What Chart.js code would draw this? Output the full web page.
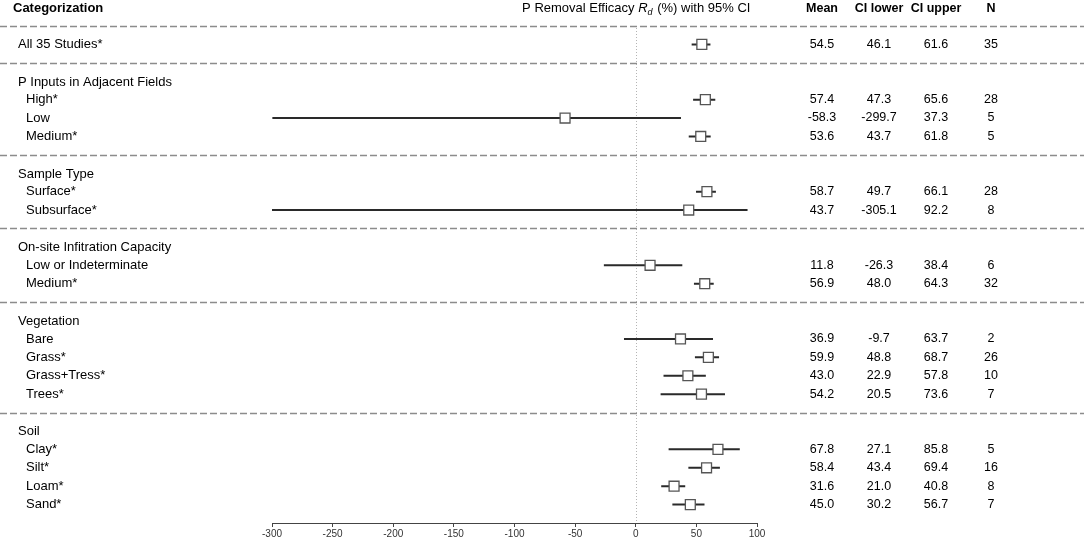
<!DOCTYPE html>
<html>
<head>
<meta charset="utf-8">
<script src="https://cdn.jsdelivr.net/npm/chart.js@4"></script>
<style>
  body { margin: 0; background: #fff; }
  canvas { display: block; }
</style>
</head>
<body>
<canvas id="forest-chart" width="1084" height="538"></canvas>
<script>
// Forest plot data
var groupTitles = [
  "",
  "P Inputs in Adjacent Fields",
  "Sample Type",
  "On-site Infitration Capacity",
  "Vegetation",
  "Soil",
];
var rowLabels = [
  "All 35 Studies*",
  "High*", "Low", "Medium*",
  "Surface*", "Subsurface*",
  "Low or Indeterminate", "Medium*",
  "Bare", "Grass*", "Grass+Tress*", "Trees*",
  "Clay*", "Silt*", "Loam*", "Sand*",
];
var rowGroup = [0, 1, 1, 1, 2, 2, 3, 3, 4, 4, 4, 4, 5, 5, 5, 5];
var means = [54.5, 57.4, -58.3, 53.6, 58.7, 43.7, 11.8, 56.9, 36.9, 59.9, 43.0, 54.2, 67.8, 58.4, 31.6, 45.0];
var ciLower = [46.1, 47.3, -299.7, 43.7, 49.7, -305.1, -26.3, 48.0, -9.7, 48.8, 22.9, 20.5, 27.1, 43.4, 21.0, 30.2];
var ciUpper = [61.6, 65.6, 37.3, 61.8, 66.1, 92.2, 38.4, 64.3, 63.7, 68.7, 57.8, 73.6, 85.8, 69.4, 40.8, 56.7];
var nStudies = [35, 28, 5, 5, 28, 8, 6, 32, 2, 26, 10, 7, 5, 16, 8, 7];
var xTicks = [-300, -250, -200, -150, -100, -50, 0, 50, 100];

// work out the row slots: header, separators, group titles, rows
var rowPos = [];
var titlePos = [];
var sepPos = [1];
var pos = 2;
for (var g = 0; g < groupTitles.length; g++) {
  if (groupTitles[g] !== "") {
    titlePos.push({ text: groupTitles[g], y: pos + 0.05 });
    pos++;
  }
  for (var i = 0; i < rowLabels.length; i++) {
    if (rowGroup[i] == g) {
      rowPos[i] = pos;
      pos++;
    }
  }
  if (g < groupTitles.length - 1) {
    sepPos.push(pos);
    pos++;
  }
}
var lastPos = pos;

// CI segments, broken with gaps
var ciData = [];
for (var i = 0; i < rowLabels.length; i++) {
  ciData.push({ x: ciLower[i], y: rowPos[i] });
  ciData.push({ x: ciUpper[i], y: rowPos[i] });
  ciData.push({ x: null, y: null });
}
var meanData = [];
for (var i = 0; i < rowLabels.length; i++) {
  meanData.push({ x: means[i], y: rowPos[i] });
}

var FONT = "Arial, 'Liberation Sans', sans-serif";
var colMean = 822, colLow = 879, colUp = 936, colN = 991;

var backgroundPlugin = {
  id: "forestBack",
  beforeDatasetsDraw: function (chart) {
    var ctx = chart.ctx;
    var xs = chart.scales.x;
    var ys = chart.scales.y;
    ctx.save();
    // zero reference line
    var x0 = Math.round(xs.getPixelForValue(0)) + 0.5;
    ctx.strokeStyle = "#b4b4b4";
    ctx.lineWidth = 1;
    ctx.setLineDash([1, 2]);
    ctx.beginPath();
    ctx.moveTo(x0, ys.getPixelForValue(1) + 2);
    ctx.lineTo(x0, ys.getPixelForValue(lastPos));
    ctx.stroke();
    ctx.restore();
  },
};

var textPlugin = {
  id: "forestText",
  afterDraw: function (chart) {
    var ctx = chart.ctx;
    var ys = chart.scales.y;
    var xs = chart.scales.x;
    ctx.save();
    ctx.textBaseline = "middle";
    ctx.fillStyle = "#000";

    // separators
    ctx.strokeStyle = "#8c8c8c";
    ctx.lineWidth = 1.5;
    ctx.setLineDash([7, 3]);
    sepPos.forEach(function (p) {
      var y = Math.round(ys.getPixelForValue(p)) + 0.5;
      ctx.beginPath();
      ctx.moveTo(0, y);
      ctx.lineTo(1084, y);
      ctx.stroke();
    });
    ctx.setLineDash([]);

    // headers
    var hy = ys.getPixelForValue(0) + 1;
    ctx.font = "bold 13px " + FONT;
    ctx.textAlign = "left";
    ctx.fillText("Categorization", 13, hy);
    ctx.font = "bold 12.5px " + FONT;
    ctx.textAlign = "center";
    ctx.fillText("Mean", colMean, hy);
    ctx.fillText("CI lower", colLow, hy);
    ctx.fillText("CI upper", colUp, hy);
    ctx.fillText("N", colN, hy);

    // axis title with italic R and subscript d
    var cx = xs.getPixelForValue(0);
    var p1 = "P Removal Efficacy ";
    var p2 = "R";
    var p3 = "d";
    var p4 = " (%) with 95% CI";
    ctx.font = "13px " + FONT;
    var w1 = ctx.measureText(p1).width;
    var w4 = ctx.measureText(p4).width;
    ctx.font = "italic 13px " + FONT;
    var w2 = ctx.measureText(p2).width;
    ctx.font = "italic 9px " + FONT;
    var w3 = ctx.measureText(p3).width;
    var tx = cx - (w1 + w2 + w3 + w4) / 2;
    ctx.textAlign = "left";
    ctx.font = "13px " + FONT;
    ctx.fillText(p1, tx, hy);
    ctx.font = "italic 13px " + FONT;
    ctx.fillText(p2, tx + w1, hy);
    ctx.font = "italic 9px " + FONT;
    ctx.fillText(p3, tx + w1 + w2, hy + 4);
    ctx.font = "13px " + FONT;
    ctx.fillText(p4, tx + w1 + w2 + w3 + 1, hy);

    // group titles
    titlePos.forEach(function (t) {
      ctx.textAlign = "left";
      ctx.fillText(t.text, 18, ys.getPixelForValue(t.y));
    });

    // rows
    for (var i = 0; i < rowLabels.length; i++) {
      var y = ys.getPixelForValue(rowPos[i]);
      ctx.font = "13px " + FONT;
      ctx.textAlign = "left";
      ctx.fillText(rowLabels[i], rowGroup[i] == 0 ? 18 : 26, y);
      ctx.font = "12.5px " + FONT;
      ctx.textAlign = "center";
      ctx.fillText(means[i].toFixed(1), colMean, y);
      ctx.fillText(ciLower[i].toFixed(1), colLow, y);
      ctx.fillText(ciUpper[i].toFixed(1), colUp, y);
      ctx.fillText(String(nStudies[i]), colN, y);
    }
    ctx.restore();
  },
};

new Chart(document.getElementById("forest-chart"), {
  type: "scatter",
  data: {
    datasets: [
      {
        label: "Mean",
        data: meanData,
        pointStyle: "rect",
        pointRadius: 7,
        pointBackgroundColor: "#fff",
        pointBorderColor: "#555",
        pointBorderWidth: 1.3,
        showLine: false,
      },
      {
        label: "95% CI",
        data: ciData,
        showLine: true,
        spanGaps: false,
        borderColor: "#2a2a2a",
        borderWidth: 2,
        pointRadius: 0,
      },
    ],
  },
  options: {
    responsive: false,
    animation: false,
    events: [],
    layout: {
      padding: { left: 272, right: 327, top: 26, bottom: 0 },
    },
    plugins: {
      legend: { display: false },
      tooltip: { enabled: false },
    },
    scales: {
      x: {
        type: "linear",
        min: -300,
        max: 100,
        afterBuildTicks: function (scale) {
          scale.ticks = xTicks.map(function (v) {
            return { value: v };
          });
        },
        afterFit: function (scale) {
          scale.height = 15;
        },
        grid: {
          drawOnChartArea: false,
          drawTicks: true,
          tickLength: 4,
          tickColor: "#444",
          tickWidth: 1,
        },
        border: { display: true, color: "#444", width: 1 },
        ticks: {
          color: "#333",
          padding: 1,
          maxRotation: 0,
          font: { family: FONT, size: 10 },
        },
      },
      y: {
        type: "linear",
        display: false,
        reverse: true,
        min: 1,
        max: lastPos,
      },
    },
  },
  plugins: [backgroundPlugin, textPlugin],
});
</script>
</body>
</html>
